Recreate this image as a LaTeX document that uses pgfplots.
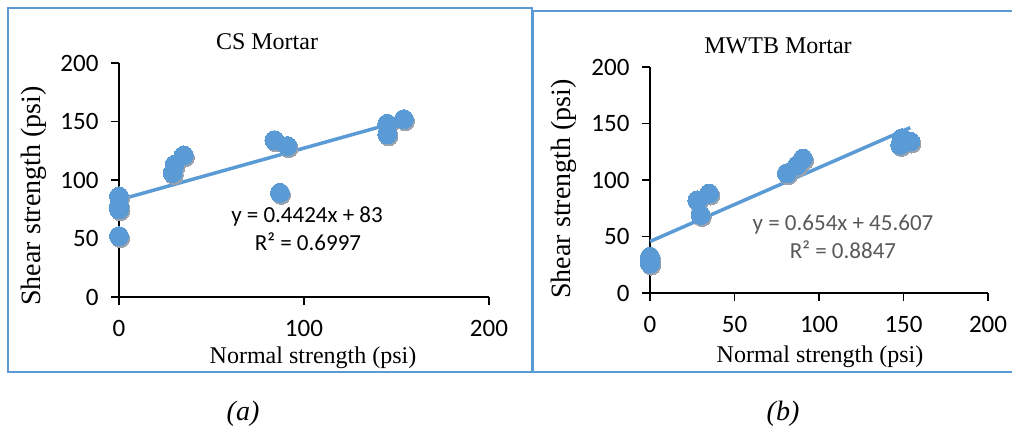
\documentclass[border=0pt]{standalone}
\usepackage{pgfplots}
\pgfplotsset{compat=1.18}
\usepackage{fontspec}
\setmainfont{Liberation Serif}
\newfontfamily\calibri{Carlito}
\definecolor{xlblue}{HTML}{5B9BD5}
\definecolor{boxblue}{HTML}{5B9BD5}
\definecolor{eqgray}{HTML}{595959}
\definecolor{shadc}{HTML}{9AA3AD}
\pgfplotsset{
 myaxis/.style={
  scale only axis, axis x line=bottom, axis y line=left,
  axis line style={-, line width=1.4pt, black},
  xmin=0,xmax=200,ymin=0,ymax=200, ytick={0,50,...,200},
  tick align=outside, major tick length=8pt, tick style={line width=1.4pt, black},
  /pgf/number format/assume math mode=true,
  ticklabel style={font=\calibri\fontsize{25}{30}\selectfont},
  xticklabel style={yshift=-12pt},
  yticklabel style={xshift=-9pt},
  clip=false,
 },
 pts/.style={xlblue, only marks, mark=*, mark size=9.5pt, mark options={fill=xlblue, draw=xlblue, line width=0pt}},
 shad/.style={shadc, only marks, mark=*, mark size=9.3pt, mark options={fill=shadc, draw=shadc, line width=0pt, xshift=1.3pt, yshift=-2.2pt}},
}
\begin{document}
\begin{tikzpicture}[x=1pt,y=1pt]
\path[use as bounding box] (0,0) rectangle (1012,-428);
% panel boxes
\draw[boxblue, line width=2pt] (8,-8) rectangle (532,-372);
\draw[boxblue, line width=2pt] (1020,-11) -- (533,-11) -- (533,-372) -- (1020,-372);

\begin{axis}[myaxis, at={(119pt,-297pt)}, anchor=south west, width=370pt, height=234pt,
  xtick={0,100,200}]
\addplot[shad] coordinates {(0,86) (0,78) (0,75) (0,52) (29,106) (30,113) (35,121) (84,134) (91,129) (87,89) (145,139) (145,148) (154,152)};
\addplot[pts] coordinates {(0,86) (0,78) (0,75) (0,52) (29,106) (30,113) (35,121) (84,134) (91,129) (87,89) (145,139) (145,148) (154,152)};
\addplot[xlblue, line width=3.5pt, no marks] coordinates {(0,83) (148,148.5)};
\end{axis}

\begin{axis}[myaxis, at={(650pt,-293pt)}, anchor=south west, width=338pt, height=226pt,
  xtick={0,50,...,200}]
\addplot[shad] coordinates {(0,32) (0,29) (0,26) (28,82) (35,88) (30,69) (81,106) (87,113) (90.5,119) (148,131) (154,134) (149,137)};
\addplot[pts] coordinates {(0,32) (0,29) (0,26) (28,82) (35,88) (30,69) (81,106) (87,113) (90.5,119) (148,131) (154,134) (149,137)};
\addplot[xlblue, line width=3.5pt, no marks] coordinates {(0,45.607) (154,146.3)};
\end{axis}

% titles
\node[anchor=base, font=\fontsize{24}{28}\selectfont] at (267,-50) {CS Mortar};
\node[anchor=base, font=\fontsize{24}{28}\selectfont] at (778,-54) {MWTB Mortar};
% axis labels
\node[anchor=base, font=\fontsize{24}{28}\selectfont] at (313,-363) {Normal strength (psi)};
\node[anchor=base, font=\fontsize{24}{28}\selectfont] at (820,-362) {Normal strength (psi)};
\node[anchor=base, rotate=90, font=\fontsize{28}{32}\selectfont] at (40,-196) {Shear strength (psi)};
\node[anchor=base, rotate=90, font=\fontsize{28}{32}\selectfont] at (570,-189) {Shear strength (psi)};
% equations
\node[anchor=base, font=\calibri\fontsize{23}{27}\selectfont] at (307,-222) {y = 0.4424x + 83};
\node[anchor=base, font=\calibri\fontsize{23}{27}\selectfont] at (308,-250.5) {R² = 0.6997};
\node[anchor=base, text=eqgray, font=\calibri\fontsize{23}{27}\selectfont] at (843,-230) {y = 0.654x + 45.607};
\node[anchor=base, text=eqgray, font=\calibri\fontsize{23}{27}\selectfont] at (843,-258) {R² = 0.8847};
% captions
\node[anchor=base, font=\itshape\fontsize{28}{32}\selectfont] at (243,-420) {(a)};
\node[anchor=base, font=\itshape\fontsize{28}{32}\selectfont] at (783,-420) {(b)};
\end{tikzpicture}
\end{document}
